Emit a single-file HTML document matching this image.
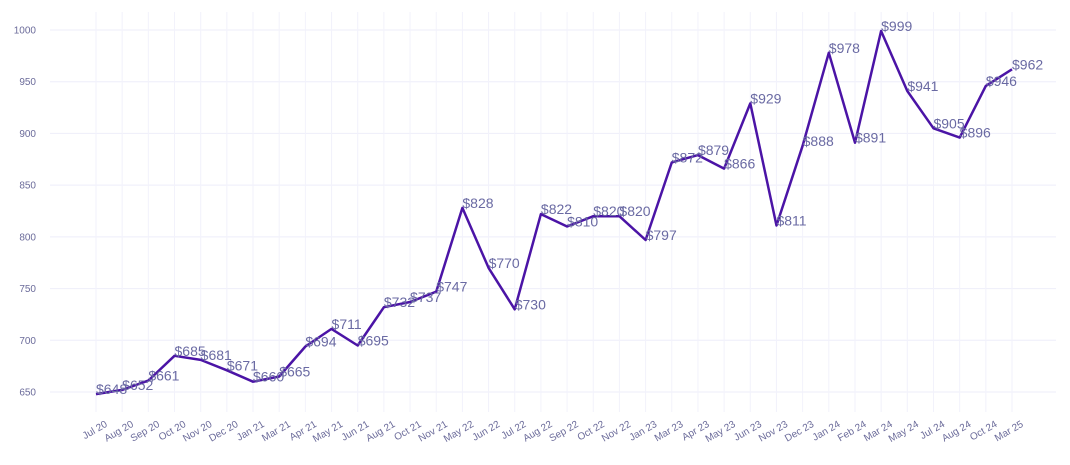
<!DOCTYPE html>
<html><head><meta charset="utf-8"><style>
html,body{margin:0;padding:0;background:#fff;}
svg{display:block;font-family:"Liberation Sans",sans-serif;}
</style></head><body>
<svg id="chart" width="1070" height="465" viewBox="0 0 1070 465"></svg>
<script>
const categories=["Jul 20","Aug 20","Sep 20","Oct 20","Nov 20","Dec 20","Jan 21","Mar 21","Apr 21","May 21","Jun 21","Aug 21","Oct 21","Nov 21","May 22","Jun 22","Jul 22","Aug 22","Sep 22","Oct 22","Nov 22","Jan 23","Mar 23","Apr 23","May 23","Jun 23","Nov 23","Dec 23","Jan 24","Feb 24","Mar 24","May 24","Jul 24","Aug 24","Oct 24","Mar 25"];
const values=[648,652,661,685,681,671,660,665,694,711,695,732,737,747,828,770,730,822,810,820,820,797,872,879,866,929,811,888,978,891,999,941,905,896,946,962];
const yTicks=[650,700,750,800,850,900,950,1000];
const NS="http://www.w3.org/2000/svg";
const svg=document.getElementById('chart');
const x0=96,x1=1012,yA=650,yB=1000,pyA=392,pyB=30;
function xs(i){return x0+(x1-x0)*i/(categories.length-1);}
function ys(v){return pyA+(v-yA)*(pyB-pyA)/(yB-yA);}
function mk(t,a){const e=document.createElementNS(NS,t);for(const k in a)e.setAttribute(k,a[k]);svg.appendChild(e);return e;}
yTicks.forEach(v=>{
  const l=mk('line',{x1:50,x2:1056,y1:ys(v),y2:ys(v),stroke:'#eeeefa','stroke-width':1});
  
  
  const t=mk('text',{x:36,y:ys(v)+3.5,'text-anchor':'end','font-size':10,fill:'#6b6b9a'});
  t.textContent=v;
  
  
});
categories.forEach((c,i)=>{
  const l=mk('line',{x1:xs(i),x2:xs(i),y1:12,y2:412,stroke:'#f2f2fb','stroke-width':1});
  
  
  const t=mk('text',{x:0,y:0,'text-anchor':'end','font-size':10,fill:'#6b6b9a',transform:`translate(${xs(i)+12},${426}) rotate(-30)`});
  t.textContent=c;
  
  
});
const pts=values.map((v,i)=>xs(i).toFixed(1)+','+ys(v).toFixed(1)).join(' ');
const pl=mk('polyline',{points:pts,fill:'none',stroke:'#4b14a6','stroke-width':2.5,'stroke-linejoin':'round'});


values.forEach((v,i)=>{
  const t=mk('text',{x:xs(i),y:ys(v),'font-size':14,fill:'#6a6aa3'});
  t.textContent='$'+v;
  
  
});
</script>
</body></html>
